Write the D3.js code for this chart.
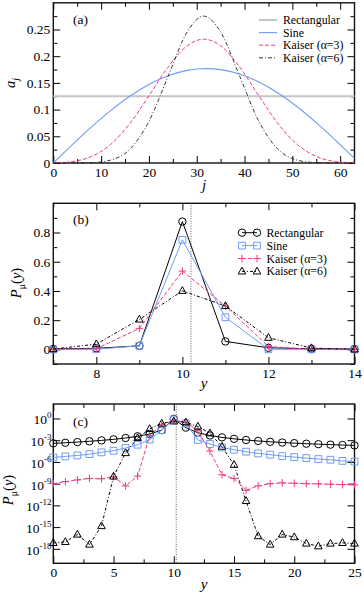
<!DOCTYPE html>
<html>
<head>
<meta charset="utf-8">
<script src="https://cdn.jsdelivr.net/npm/d3@7"></script>
<style>
  body { margin: 0; background: #fff; }
  svg { display: block; }
  svg text { font-family: 'Liberation Serif', 'DejaVu Serif', serif; }
</style>
</head>
<body>
<svg id="fig" width="364" height="594"></svg>
<script>
/* Window coefficients (a) and outcome distributions (b), (c) */

// panel (a): a_j
const jRect = [0, 63];
const aRect = [0.125, 0.125];
const jSine = [0, 4, 8, 12, 16, 20, 24, 28, 31, 32, 35, 39, 43, 47, 51, 55, 59, 63];
const aSine = [0, 0.0345, 0.0677, 0.0982, 0.125, 0.147, 0.1633, 0.1734, 0.1766, 0.1768,
  0.1749, 0.1665, 0.1516, 0.131, 0.1053, 0.0756, 0.043, 0.0087];
const jKaiser = [0, 4, 8, 12, 16, 20, 24, 28, 31.5, 35, 39, 43, 47, 51, 55, 59, 63];
const aKaiser3 = [0.0001, 0.0027, 0.0123, 0.0348, 0.0736, 0.1258, 0.1796, 0.2195, 0.232,
  0.2195, 0.1796, 0.1258, 0.0736, 0.0348, 0.0123, 0.0027, 0.0001];
const aKaiser6 = [0, 0.00003, 0.0006, 0.0054, 0.0257, 0.0778, 0.1621, 0.2454, 0.275,
  0.2454, 0.1621, 0.0778, 0.0257, 0.0054, 0.0006, 0.00003, 0];

// panels (b), (c): P_mu(y), y = 0..25
const yOut = [0, 1, 2, 3, 4, 5, 6, 7, 8, 9, 10, 11, 12, 13, 14, 15, 16, 17, 18, 19, 20, 21, 22, 23, 24, 25];
const pRect = [3.66e-4, 4.43e-4, 5.5e-4, 7.04e-4, 9.39e-4, 1.32e-3, 2.01e-3, 3.45e-3, 7.26e-3, 0.0243,
  0.875, 0.0547, 0.0108, 4.49e-3, 2.45e-3, 1.55e-3, 1.07e-3, 7.86e-4, 6.04e-4, 4.81e-4,
  3.94e-4, 3.3e-4, 2.82e-4, 2.44e-4, 2.15e-4, 1.91e-4];
const pSine = [4.2e-6, 5.8e-6, 7.9e-6, 1.2e-5, 2.1e-5, 3.5e-5, 8.3e-5, 2.4e-4, 1.2e-3, 0.025,
  0.75, 0.22, 1.1e-3, 3.0e-4, 1.0e-4, 4.9e-5, 2.6e-5, 1.5e-5, 1.0e-5, 6.5e-6,
  4.7e-6, 3.4e-6, 2.5e-6, 2.0e-6, 1.4e-6, 1.1e-6];
const pKaiser3 = [1.0e-9, 1.9e-9, 3.3e-9, 5.1e-9, 4.7e-9, 8.9e-9, 4.9e-10, 1.1e-8, 4.4e-3, 0.144,
  0.536, 0.297, 0.02, 3.2e-5, 1.7e-8, 5.1e-9, 1.2e-10, 4.9e-10, 1.0e-9, 1.3e-9,
  1.15e-9, 1.0e-9, 9.3e-10, 8.3e-10, 7.4e-10, 6.8e-10];
const pKaiser6 = [6.6e-18, 9.1e-18, 9.5e-17, 3.9e-18, 1.4e-15, 9.8e-9, 1.7e-5, 2.0e-3, 0.036, 0.205,
  0.401, 0.297, 0.08, 9.1e-3, 1.3e-4, 4.1e-7, 4.1e-12, 5.6e-17, 3.9e-18, 9.5e-17,
  4.1e-17, 5.4e-18, 2.3e-18, 5.4e-18, 6.6e-18, 5.4e-18];
const mu = 10.2;

const names = ['Rectangular', 'Sine', 'Kaiser (\u03b1=3)', 'Kaiser (\u03b1=6)'];

const config = {
  LEFT: 53.3, RIGHT: 354.5,
  MAJOR: 7, MINOR: 4,
  TICK_FONT: 13.5, LEG_FONT: 11.8,
  FONT: "'Liberation Serif', 'DejaVu Serif', serif",
  PINK: '#ec3c88', BLUE: '#6f9cf6', GREY: '#c6c6c6'
};

const svg = d3.select('#fig').attr('font-family', config.FONT);

// line styles shared by (b) and (c)
const styles = [
  { p: pRect, color: '#000', dash: null, marker: 'circle' },
  { p: pSine, color: config.BLUE, dash: null, marker: 'square' },
  { p: pKaiser3, color: config.PINK, dash: '4,2', marker: 'plus' },
  { p: pKaiser6, color: '#000', dash: '3,2,1,2', marker: 'triangle' }
];

const markerPath = function (type) {
  if (type === 'circle') return 'M3.7,0A3.7,3.7 0 1,1 -3.7,0A3.7,3.7 0 1,1 3.7,0Z';
  if (type === 'square') return 'M-3.4,-3.4H3.4V3.4H-3.4Z';
  if (type === 'plus') return 'M-3.8,0H3.8M0,-3.8V3.8';
  return 'M0,-4.2L3.8,2.6H-3.8Z';
};

/* inward ticks on all four sides, plus a frame */
const drawAxes = function (x, y, o) {
  const [yb, yt] = y.range();
  const g = svg.append('g');
  const clean = s => s.call(a => a.select('.domain').remove())
    .attr('font-family', config.FONT).attr('font-size', config.TICK_FONT);

  g.append('g').attr('transform', `translate(0,${yb})`)
    .call(d3.axisBottom(x).tickValues(o.xMajor).tickSize(-config.MAJOR).tickPadding(4)
      .tickFormat(d3.format('d'))).call(clean);
  g.append('g').attr('transform', `translate(0,${yb})`)
    .call(d3.axisBottom(x).tickValues(o.xMinor).tickSize(-config.MINOR).tickFormat('')).call(clean);
  g.append('g').attr('transform', `translate(0,${yt})`)
    .call(d3.axisTop(x).tickValues(o.xMajor).tickSize(-config.MAJOR).tickFormat('')).call(clean);
  g.append('g').attr('transform', `translate(0,${yt})`)
    .call(d3.axisTop(x).tickValues(o.xMinor).tickSize(-config.MINOR).tickFormat('')).call(clean);

  g.append('g').attr('transform', `translate(${config.LEFT},0)`)
    .call(d3.axisLeft(y).tickValues(o.yMajor).tickSize(-config.MAJOR).tickPadding(3)
      .tickFormat(o.yFmt || '')).call(clean);
  g.append('g').attr('transform', `translate(${config.RIGHT},0)`)
    .call(d3.axisRight(y).tickValues(o.yMajor).tickSize(-config.MAJOR).tickFormat('')).call(clean);
  if (o.yMinor) {
    g.append('g').attr('transform', `translate(${config.LEFT},0)`)
      .call(d3.axisLeft(y).tickValues(o.yMinor).tickSize(-config.MINOR).tickFormat('')).call(clean);
    g.append('g').attr('transform', `translate(${config.RIGHT},0)`)
      .call(d3.axisRight(y).tickValues(o.yMinor).tickSize(-config.MINOR).tickFormat('')).call(clean);
  }
  g.selectAll('.tick line').attr('stroke', '#000').attr('stroke-width', 1);

  g.append('rect')
    .attr('x', config.LEFT).attr('y', yt)
    .attr('width', config.RIGHT - config.LEFT).attr('height', yb - yt)
    .attr('fill', 'none').attr('stroke', '#111').attr('stroke-width', 1.4);
  return g;
};

const panelLabel = function (txt, yy) {
  svg.append('text').attr('x', 73).attr('y', yy)
    .attr('font-size', 13.5).text(txt);
};

const yTitle = function (cx, cy, sub) {
  const t = svg.append('text')
    .attr('transform', `translate(${cx},${cy}) rotate(-90)`)
    .attr('text-anchor', 'middle').attr('font-size', 14.5);
  if (sub === 'j') {
    t.append('tspan').attr('font-style', 'italic').text('a');
    t.append('tspan').attr('font-style', 'italic').attr('font-size', 10).attr('dy', 4).text('j');
  } else {
    t.append('tspan').attr('font-style', 'italic').text('P');
    t.append('tspan').attr('font-size', 10).attr('dy', 4).text('\u03bc');
    t.append('tspan').attr('dy', -4).text('(');
    t.append('tspan').attr('font-style', 'italic').text('y');
    t.append('tspan').text(')');
  }
};

const xTitle = function (txt, yy) {
  svg.append('text').attr('x', 204).attr('y', yy)
    .attr('text-anchor', 'middle').attr('font-size', 15)
    .attr('font-style', 'italic').text(txt);
};

/* ---------- panel (a) ---------- */
const xa = d3.scaleLinear().domain([0, 63]).range([config.LEFT, config.RIGHT]);
const ya = d3.scaleLinear().domain([0, 0.3]).range([163, 2.8]);

drawAxes(xa, ya, {
  xMajor: [0, 10, 20, 30, 40, 50, 60], xMinor: [5, 15, 25, 35, 45, 55],
  yMajor: [0, 0.05, 0.1, 0.15, 0.2, 0.25], yMinor: [0.025, 0.075, 0.125, 0.175, 0.225, 0.275],
  yFmt: d => (d === 0 ? '0' : d3.format('~g')(d))
});

const lineA = d3.line().x(d => xa(d[0])).y(d => ya(d[1])).curve(d3.curveMonotoneX);
const curvesA = [
  { j: jRect, a: aRect, color: config.GREY, w: 2.2, dash: null },
  { j: jSine, a: aSine, color: config.BLUE, w: 1.1, dash: null },
  { j: jKaiser, a: aKaiser3, color: config.PINK, w: 1, dash: '4,2' },
  { j: jKaiser, a: aKaiser6, color: '#222', w: 0.9, dash: '4,2,1,2' }
];
curvesA.forEach((c, i) => {
  svg.append('path')
    .datum(d3.zip(c.j, c.a))
    .attr('d', lineA)
    .attr('fill', 'none').attr('stroke', c.color)
    .attr('stroke-width', c.w).attr('stroke-dasharray', c.dash);
  const ly = 20 + i * 12.6;
  svg.append('line').attr('x1', 259).attr('x2', 277).attr('y1', ly).attr('y2', ly)
    .attr('stroke', c.color).attr('stroke-width', c.w).attr('stroke-dasharray', c.dash);
  svg.append('text').attr('x', 283).attr('y', ly + 4)
    .attr('font-size', config.LEG_FONT).text(names[i]);
});

panelLabel('(a)', 24);
yTitle(15, 83, 'j');
xTitle('j', 190);

/* ---------- panel (b) ---------- */
const xb = d3.scaleLinear().domain([7, 14]).range([config.LEFT, config.RIGHT]);
const yb = d3.scaleLinear().domain([-0.1, 1.0]).range([364, 203.3]);

drawAxes(xb, yb, {
  xMajor: [8, 10, 12, 14], xMinor: [7, 9, 11, 13],
  yMajor: [0, 0.2, 0.4, 0.6, 0.8], yMinor: [-0.1, 0.1, 0.3, 0.5, 0.7, 0.9],
  yFmt: d => (d === 0 ? '0' : d3.format('.1f')(d))
});

svg.append('line')
  .attr('x1', xb(mu)).attr('x2', xb(mu)).attr('y1', yb(1.0)).attr('y2', yb(-0.1))
  .attr('stroke', '#333').attr('stroke-width', 0.8).attr('stroke-dasharray', '1,1.5');

const bIdx = yOut.filter(v => v >= 7 && v <= 14);
const lineB = d3.line().x(d => xb(d[0])).y(d => yb(d[1]));
styles.forEach((s, i) => {
  const pts = bIdx.map(v => [v, s.p[v]]);
  svg.append('path').datum(pts).attr('d', lineB)
    .attr('fill', 'none').attr('stroke', s.color).attr('stroke-width', 1)
    .attr('stroke-dasharray', s.dash);
  svg.append('g').selectAll('path').data(pts).join('path')
    .attr('transform', d => `translate(${xb(d[0])},${yb(d[1])})`)
    .attr('d', markerPath(s.marker))
    .attr('fill', 'none').attr('stroke', s.color).attr('stroke-width', 1);

  // legend
  const ly = 232.7 + i * 12.9;
  svg.append('line').attr('x1', 242).attr('x2', 257).attr('y1', ly).attr('y2', ly)
    .attr('stroke', s.color).attr('stroke-width', 1).attr('stroke-dasharray', s.dash);
  svg.append('g').selectAll('path').data([242, 257]).join('path')
    .attr('transform', d => `translate(${d},${ly})`)
    .attr('d', markerPath(s.marker))
    .attr('fill', 'none').attr('stroke', s.color).attr('stroke-width', 1);
  svg.append('text').attr('x', 266.5).attr('y', ly + 4)
    .attr('font-size', config.LEG_FONT).text(names[i]);
});

panelLabel('(b)', 224);
yTitle(21, 283, 'P');
xTitle('y', 388);

/* ---------- panel (c) ---------- */
const xc = d3.scaleLinear().domain([0, 25]).range([config.LEFT, config.RIGHT]);
const yc = d3.scaleLog().domain([1e-20, 1e2]).range([563.3, 404]);

const expC = [0, -3, -6, -9, -12, -15, -18];
drawAxes(xc, yc, {
  xMajor: [0, 5, 10, 15, 20, 25], xMinor: [2.5, 7.5, 12.5, 17.5, 22.5],
  yMajor: expC.map(e => Math.pow(10, e))
});

expC.forEach(e => {
  const t = svg.append('text')
    .attr('x', 51.5).attr('y', yc(Math.pow(10, e)) + 6)
    .attr('text-anchor', 'end').attr('font-size', config.TICK_FONT);
  t.append('tspan').text('10');
  t.append('tspan').attr('font-size', 9).attr('dy', -6).text(e === 0 ? '0' : '-' + Math.abs(e));
});

svg.append('line')
  .attr('x1', xc(mu)).attr('x2', xc(mu)).attr('y1', yc(1e2)).attr('y2', yc(1e-20))
  .attr('stroke', '#333').attr('stroke-width', 0.8).attr('stroke-dasharray', '1,1.5');

const lineC = d3.line().x(d => xc(d[0])).y(d => yc(d[1]));
styles.forEach(s => {
  const pts = yOut.map(v => [v, s.p[v]]);
  svg.append('path').datum(pts).attr('d', lineC)
    .attr('fill', 'none').attr('stroke', s.color).attr('stroke-width', 1)
    .attr('stroke-dasharray', s.dash);
  svg.append('g').selectAll('path').data(pts).join('path')
    .attr('transform', d => `translate(${xc(d[0])},${yc(d[1])})`)
    .attr('d', markerPath(s.marker))
    .attr('fill', 'none').attr('stroke', s.color).attr('stroke-width', 1);
});

panelLabel('(c)', 426);
yTitle(13, 490, 'P');
xTitle('y', 589);
</script>
</body>
</html>
